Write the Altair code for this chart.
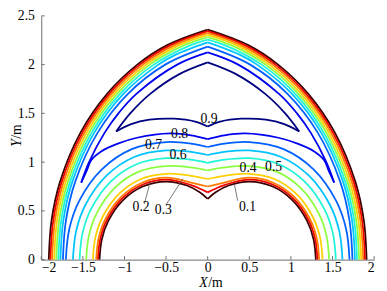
import altair as alt
import pandas as pd

# contour levels and their colours (reversed jet)
LEVELS = ["0", "0.1", "0.2", "0.3", "0.4", "0.5", "0.6", "0.7", "0.8", "0.9"]
COLORS = ["#3a0000", "#f00000", "#ff7a00", "#ffd000", "#8cff40",
          "#20f5d8", "#00c4ff", "#0060ff", "#0000f0", "#000080"]

# right halves (x >= 0) of the contours; left halves are mirror images
outer_0 = [(0, 2.359), (0.487, 2.2), (0.846, 2.0), (1.209, 1.7), (1.530, 1.3), (1.774, 0.8), (1.877, 0.4), (1.910, 0)]
outer_1 = [(0, 2.344), (0.446, 2.2), (0.815, 2.0), (1.183, 1.7), (1.507, 1.3), (1.753, 0.8), (1.856, 0.4), (1.890, 0)]
outer_2 = [(0, 2.325), (0.398, 2.2), (0.780, 2.0), (1.156, 1.7), (1.483, 1.3), (1.731, 0.8), (1.836, 0.4), (1.870, 0)]
outer_3 = [(0, 2.305), (0.343, 2.2), (0.740, 2.0), (1.123, 1.7), (1.455, 1.3), (1.705, 0.8), (1.811, 0.4), (1.845, 0)]
outer_4 = [(0, 2.283), (0.281, 2.2), (0.697, 2.0), (1.089, 1.7), (1.426, 1.3), (1.679, 0.8), (1.786, 0.4), (1.820, 0)]
outer_5 = [(0, 2.257), (0.204, 2.2), (0.648, 2.0), (1.053, 1.7), (1.396, 1.3), (1.653, 0.8), (1.761, 0.4), (1.795, 0)]
outer_6 = [(0, 2.228), (0.389, 2.1), (0.593, 2.0), (1.013, 1.7), (1.365, 1.3), (1.626, 0.8), (1.735, 0.4), (1.770, 0)]
outer_7 = [(0, 2.184), (0.510, 2.0), (0.959, 1.7), (1.324, 1.3), (1.592, 0.8), (1.704, 0.4), (1.740, 0)]
outer_8 = [(0, 2.125), (0.367, 2.0), (0.857, 1.7), (1.073, 1.5), (1.240, 1.3), (1.426, 1.0), (1.520, 0.79)]
outer_9 = [(0, 2.023), (0.346, 1.9), (0.691, 1.7), (0.931, 1.5), (1.100, 1.315)]

inner_0 = [(0, 0.624), (0.1, 0.693), (0.25, 0.760), (0.5, 0.8), (0.774, 0.752), (1.014, 0.613), (1.193, 0.4), (1.273, 0.207), (1.30, 0)]
inner_1 = [(0, 0.69), (0.1, 0.73), (0.2, 0.765), (0.5, 0.82), (0.780, 0.771), (1.027, 0.628), (1.210, 0.41), (1.292, 0.212), (1.32, 0)]
inner_2 = [(0, 0.75), (0.2, 0.79), (0.5, 0.84), (0.787, 0.789), (1.040, 0.643), (1.227, 0.42), (1.311, 0.218), (1.34, 0)]
inner_3 = [(0, 0.827), (0.2, 0.86), (0.5, 0.88), (0.801, 0.827), (1.066, 0.674), (1.262, 0.44), (1.350, 0.228), (1.38, 0)]
inner_4 = [(0, 0.914), (0.2, 0.945), (0.5, 0.96), (0.828, 0.902), (1.117, 0.735), (1.331, 0.48), (1.427, 0.249), (1.46, 0)]
inner_5 = [(0, 0.992), (0.2, 1.025), (0.5, 1.04), (0.856, 0.978), (1.169, 0.797), (1.401, 0.52), (1.505, 0.269), (1.54, 0)]
inner_6 = [(0, 1.073), (0.2, 1.105), (0.5, 1.12), (0.883, 1.053), (1.220, 0.858), (1.470, 0.56), (1.582, 0.290), (1.62, 0)]
inner_7 = [(0, 1.155), (0.2, 1.19), (0.5, 1.205), (0.912, 1.133), (1.275, 0.923), (1.544, 0.6025), (1.664, 0.312), (1.705, 0)]
inner_8 = [(0, 1.235), (0.2, 1.275), (0.45, 1.295), (0.85, 1.25), (1.08, 1.19), (1.28, 1.11), (1.40, 1.02), (1.45, 0.92), (1.52, 0.79)]
inner_9 = [(0, 1.365), (0.15, 1.415), (0.4, 1.445), (0.7, 1.435), (0.92, 1.39), (1.10, 1.315)]

segments = [
    ("o0", "0", outer_0), ("o1", "0.1", outer_1), ("o2", "0.2", outer_2), ("o3", "0.3", outer_3),
    ("o4", "0.4", outer_4), ("o5", "0.5", outer_5), ("o6", "0.6", outer_6), ("o7", "0.7", outer_7),
    ("o8", "0.8", outer_8), ("o9", "0.9", outer_9),
    ("i0", "0", inner_0), ("i1", "0.1", inner_1), ("i2", "0.2", inner_2), ("i3", "0.3", inner_3),
    ("i4", "0.4", inner_4), ("i5", "0.5", inner_5), ("i6", "0.6", inner_6), ("i7", "0.7", inner_7),
    ("i8", "0.8", inner_8), ("i9", "0.9", inner_9),
]

# contour labels
label_text = ["0.9", "0.8", "0.7", "0.6", "0.5", "0.4", "0.3", "0.2", "0.1"]
label_x = [0.016, -0.337, -0.651, -0.357, 0.792, 0.486, -0.533, -0.80, 0.479]
label_y = [1.446, 1.284, 1.170, 1.073, 0.953, 0.934, 0.506, 0.538, 0.538]

# leader lines for 0.1, 0.2, 0.3
lead_x = [0.361, -0.761, -0.494]
lead_y = [0.603, 0.571, 0.571]
lead_x2 = [0.321, -0.691, -0.298]
lead_y2 = [0.771, 0.798, 0.830]

x_ticks = [-2, -1.5, -1, -0.5, 0, 0.5, 1, 1.5, 2]
y_ticks = [0, 0.5, 1, 1.5, 2, 2.5]

rows = []
for name, level, pts in segments:
    for side in (1, -1):
        for i, (px, py) in enumerate(pts):
            rows.append({"x": side * px, "y": py, "seg": f"{name}_{side}", "order": i, "level": level})
df = pd.DataFrame(rows)

FONT = "Liberation Serif, Times New Roman, DejaVu Serif, serif"
W, H = 340, 249

xscale = alt.Scale(domain=[-2, 2], nice=False, zero=False)
yscale = alt.Scale(domain=[0, 2.5], nice=False, zero=False)

axis_common = dict(ticks=False, tickSize=0, grid=False, domainColor="#6a6a6a", domainWidth=1,
                   labelFont=FONT, labelFontSize=14, labelColor="black", format="~g", title=None)
xaxis = alt.Axis(values=x_ticks, labelPadding=1, **axis_common)
yaxis = alt.Axis(values=y_ticks, labelPadding=7, **axis_common)


def X(field="x"):
    return alt.X(f"{field}:Q", scale=xscale, axis=xaxis)


def Y(field="y"):
    return alt.Y(f"{field}:Q", scale=yscale, axis=yaxis)


lines = alt.Chart(df).mark_line(interpolate="catmull-rom", strokeWidth=1.8, strokeCap="butt").encode(
    x=X(), y=Y(),
    color=alt.Color("level:N", scale=alt.Scale(domain=LEVELS, range=COLORS), legend=None),
    detail="seg:N",
    order="order:Q",
)

xt = alt.Chart(pd.DataFrame({"x": x_ticks})).mark_rule(color="#6a6a6a", strokeWidth=1).encode(
    x=X(), y=alt.value(H), y2=alt.value(H - 3.5))
yt = alt.Chart(pd.DataFrame({"y": y_ticks})).mark_rule(color="#6a6a6a", strokeWidth=1).encode(
    y=Y(), x=alt.value(0), x2=alt.value(3.5))

labels = alt.Chart(pd.DataFrame({"x": label_x, "y": label_y, "t": label_text})).mark_text(
    font=FONT, fontSize=14, color="black", align="center", baseline="middle").encode(
    x=X(), y=Y(), text="t:N")

leaders = alt.Chart(pd.DataFrame({"x": lead_x, "y": lead_y, "x2": lead_x2, "y2": lead_y2})).mark_rule(
    color="#555555", strokeWidth=0.8).encode(x=X(), y=Y(), x2="x2:Q", y2="y2:Q")


def txt(t, **kw):
    return alt.Chart(pd.DataFrame({"t": [t]})).mark_text(font=FONT, fontSize=14, color="black",
                                                         baseline="middle", **kw)


xtitle_a = txt("X", align="right", fontStyle="italic").encode(text="t:N", x=alt.value(170), y=alt.value(273))
xtitle_b = txt("/m", align="left").encode(text="t:N", x=alt.value(170.5), y=alt.value(273))
ytitle_a = txt("Y", align="right", fontStyle="italic", angle=270).encode(text="t:N", x=alt.value(-25), y=alt.value(126))
ytitle_b = txt("/m", align="left", angle=270).encode(text="t:N", x=alt.value(-25), y=alt.value(125.5))

chart = alt.layer(lines, xt, yt, leaders, labels, xtitle_a, xtitle_b, ytitle_a, ytitle_b).properties(
    width=W, height=H,
    autosize=alt.AutoSizeParams(type="none"),
    padding={"left": 34, "top": 5, "right": 5, "bottom": 29},
    background="white",
).configure_view(stroke=None)

chart.save("out.html", embed_options={"renderer": "svg", "actions": False})
